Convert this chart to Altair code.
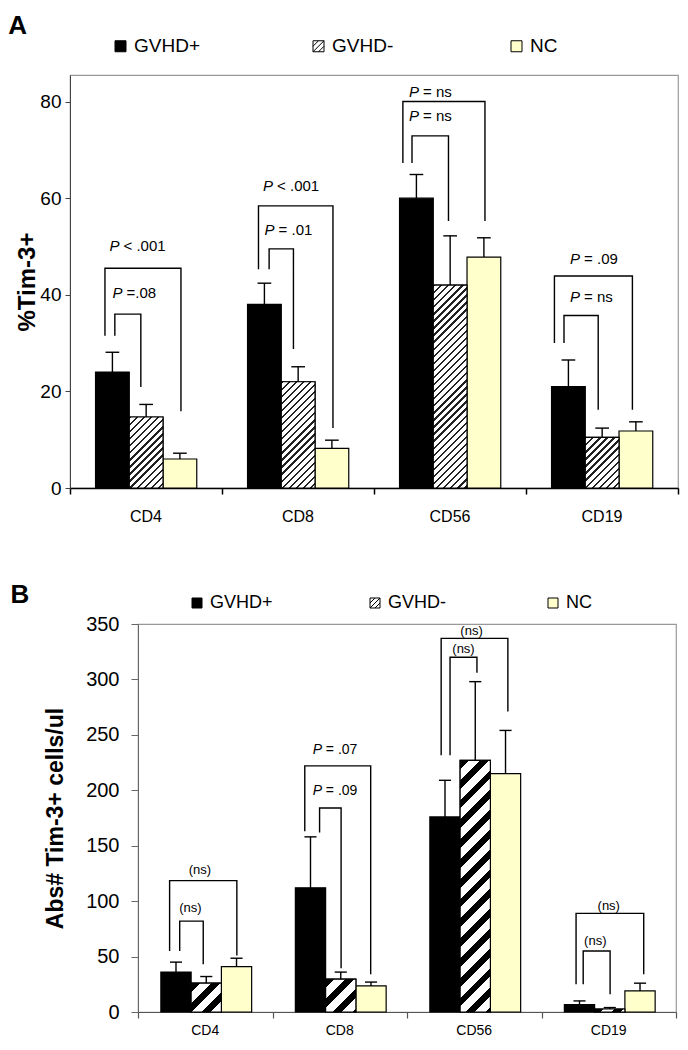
import math
import altair as alt
import pandas as pd

cats = ["CD4", "CD8", "CD56", "CD19"]
groups = ["GVHD+", "GVHD-", "NC"]

# Panel A: % Tim-3+ (mean and top of error bar)
a_mean = {"GVHD+": [24, 38, 60, 21], "GVHD-": [14.7, 22, 42, 10.5], "NC": [6, 8.2, 47.8, 11.8]}
a_top = {"GVHD+": [28.1, 42.4, 64.9, 26.5], "GVHD-": [17.3, 25.1, 52.2, 12.4], "NC": [7.2, 9.9, 51.8, 13.7]}
a_ticks = [0, 20, 40, 60, 80]

# Panel B: absolute Tim-3+ cells/ul
b_mean = {"GVHD+": [36, 112, 176, 6.6], "GVHD-": [26, 29.6, 227, 2.7], "NC": [41, 23.5, 215, 19]}
b_top = {"GVHD+": [45, 158, 209, 10], "GVHD-": [32, 36, 298, 4], "NC": [48.5, 27, 254, 26]}
b_ticks = [0, 50, 100, 150, 200, 250, 300, 350]

# significance brackets: category, left x, right x (fraction of category), left leg bottom, top, right leg bottom
a_brackets = [
    ("CD4", 0.295, 0.466, 31.5, 36.0, 20.9),
    ("CD4", 0.23, 0.73, 31.5, 45.5, 15.9),
    ("CD8", 0.31, 0.47, 45.3, 49.5, 28.8),
    ("CD8", 0.24, 0.73, 45.3, 58.4, 12.4),
    ("CD56", 0.25, 0.49, 67.3, 72.9, 55.3),
    ("CD56", 0.19, 0.73, 67.3, 80.0, 55.3),
    ("CD19", 0.25, 0.475, 30.0, 35.7, 16.2),
    ("CD19", 0.187, 0.70, 30.0, 43.9, 16.2),
]
a_plabels = [
    ("CD4", 0.26, 50.1, "< .001"), ("CD4", 0.28, 40.4, "=.08"),
    ("CD8", 0.27, 62.5, "< .001"), ("CD8", 0.28, 53.4, "= .01"),
    ("CD56", 0.23, 82.0, "= ns"), ("CD56", 0.23, 77.0, "= ns"),
    ("CD19", 0.29, 47.4, "= .09"), ("CD19", 0.29, 39.5, "= ns"),
]
a_nslabels = []

b_brackets = [
    ("CD4", 0.31, 0.485, 55, 82, 43),
    ("CD4", 0.235, 0.735, 55, 118.5, 51),
    ("CD8", 0.35, 0.51, 162, 184, 39.5),
    ("CD8", 0.24, 0.73, 163, 222, 34),
    ("CD56", 0.32, 0.52, 231.6, 320, 306),
    ("CD56", 0.254, 0.75, 231.6, 337, 271),
    ("CD19", 0.31, 0.51, 25, 55, 16),
    ("CD19", 0.257, 0.76, 25, 89, 34),
]
b_plabels = [("CD8", 0.30, 236, "= .07"), ("CD8", 0.30, 199, "= .09")]
b_nslabels = [
    ("CD4", 0.39, 94, "(ns)"), ("CD4", 0.46, 128, "(ns)"),
    ("CD56", 0.42, 327.6, "(ns)"), ("CD56", 0.48, 344, "(ns)"),
    ("CD19", 0.40, 64, "(ns)"), ("CD19", 0.50, 96, "(ns)"),
]

FONT = "Liberation Sans"
HATCH_PATH = "M-1,-1H1V1H-1Z M-1,0L0,-1 M-1,1L1,-1 M0,1L1,0"


def hatch(w, h, period, frac, dark):
    gx = w * (w + h) / (w * w + h * h)
    gy = h * (w + h) / (w * w + h * h)
    n = (w + h) / (math.sqrt(2) * period)
    stops = []
    k = 0
    while k / n < 1:
        o0 = k / n
        o1 = min((k + frac) / n, 1)
        o2 = min((k + 1) / n, 1)
        stops += [{"offset": o0, "color": dark}, {"offset": o1, "color": dark},
                  {"offset": o1, "color": "white"}, {"offset": o2, "color": "white"}]
        k += 1
    return {"gradient": "linear", "x1": 0, "y1": 0, "x2": gx, "y2": gy, "stops": stops}


def panel(mean, top, ticks, brackets, plabels, nslabels, c):
    W, H, ymax = c["W"], c["H"], c["ymax"]
    starts, bw, cap = c["starts"], c["bw"], c["cap"]
    rows = []
    for i, cat in enumerate(cats):
        for j, g in enumerate(groups):
            x0 = i + starts[j]
            xc = x0 + bw / 2
            rows.append(dict(cname=cat, grp=g, x0=x0, x1=x0 + bw, xc=xc,
                             cl=xc - cap / 2, cr=xc + cap / 2,
                             v=mean[g][i], e=top[g][i]))
    bars = pd.DataFrame(rows)

    xs = alt.Scale(domain=[0, 4], nice=False, zero=False)
    ys = alt.Scale(domain=[0, ymax], nice=False)
    xax = alt.Axis(values=[0, 1, 2, 3, 4], labels=False, tickSize=c["xtick"], grid=False,
                   domainColor=c["xaxcol"], tickColor=c["xaxcol"], domainWidth=c["xw"], tickWidth=c["xw"])
    yax = alt.Axis(values=ticks, grid=False, tickSize=c["ytick"], labelFontSize=c["ylab"],
                   labelPadding=c["ylabpad"], titleFontSize=c["ytitle"], titleFontWeight="bold",
                   titlePadding=c["ytitlepad"], labelColor="black", titleColor="black",
                   domainColor=c["yaxcol"], tickColor=c["yaxcol"], labelFont=FONT, titleFont=FONT)

    def X(f):
        return alt.X(f, type="quantitative", scale=xs, axis=xax, title=None)

    def Y(f):
        return alt.Y(f, type="quantitative", scale=ys, axis=yax, title=c["title"])

    layers = []
    layers.append(alt.Chart(bars).mark_bar(stroke="black", strokeWidth=1.2).encode(
        x=X("x0"), x2="x1", y=Y("v"), y2=alt.datum(0),
        fill=alt.Fill("grp:N", scale=alt.Scale(domain=groups, range=["black", "white", "#ffffcc"]),
                      legend=alt.Legend(
                          orient="none", legendX=c["lx"], legendY=c["ly"], direction="horizontal",
                          title=None, gridAlign="all", columnPadding=c["colpad"], padding=0,
                          symbolSize=c["symsize"], symbolStrokeColor="black", symbolStrokeWidth=1,
                          symbolType={"expr": "datum.value == 'GVHD-' ? '" + HATCH_PATH + "' : 'square'"},
                          labelFontSize=c["leglab"], labelFont=FONT, labelColor="black", labelOffset=4,
                          symbolOpacity=1))))
    pxu = W / 4
    pyu = H / ymax
    hat = bars[bars["grp"] == "GVHD-"]
    for idx in hat.index:
        r = hat.loc[idx]
        w = (r["x1"] - r["x0"]) * pxu
        h = max(r["v"] * pyu, 1)
        g = hatch(w, h, c["period"], c["frac"], c["dark"])
        layers.append(alt.Chart(hat.loc[[idx]]).mark_bar(
            fill=g, stroke="black", strokeWidth=1.2).encode(
            x=X("x0"), x2="x1", y=Y("v"), y2=alt.datum(0)))
    layers.append(alt.Chart(bars).mark_rule(color="black", strokeWidth=1.4).encode(
        x=X("xc"), y=Y("v"), y2="e"))
    layers.append(alt.Chart(bars).mark_rule(color="black", strokeWidth=1.4).encode(
        x=X("cl"), x2="cr", y=Y("e")))

    brows = []
    for k, (cat, xl, xr, yl, yt, yr) in enumerate(brackets):
        i = cats.index(cat)
        pts = [(i + xl, yl), (i + xl, yt), (i + xr, yt), (i + xr, yr)]
        for o, (px, py) in enumerate(pts):
            brows.append(dict(bid=k, ord=o, bx=px, by=py))
    layers.append(alt.Chart(pd.DataFrame(brows)).mark_line(color="black", strokeWidth=1.4).encode(
        x=X("bx"), y=Y("by"), detail="bid:N", order="ord:Q"))

    if plabels:
        pdf = pd.DataFrame([dict(lx=cats.index(cat) + xf, ly=yv, rest=t) for cat, xf, yv, t in plabels])
        layers.append(alt.Chart(pdf).mark_text(fontStyle="italic", align="left", baseline="middle",
                                               fontSize=c["pfont"], font=FONT, color="black").encode(
            x=X("lx"), y=Y("ly"), text=alt.value("P")))
        layers.append(alt.Chart(pdf).mark_text(align="left", baseline="middle", dx=c["pdx"],
                                               fontSize=c["pfont"], font=FONT, color="black").encode(
            x=X("lx"), y=Y("ly"), text="rest:N"))
    if nslabels:
        ndf = pd.DataFrame([dict(lx=cats.index(cat) + xf, ly=yv, t=t) for cat, xf, yv, t in nslabels])
        layers.append(alt.Chart(ndf).mark_text(align="center", baseline="middle",
                                               fontSize=c["nsfont"], font=FONT, color="black").encode(
            x=X("lx"), y=Y("ly"), text="t:N"))

    cdf = pd.DataFrame({"cname": cats, "xm": [i + 0.5 for i in range(len(cats))]})
    layers.append(alt.Chart(cdf).mark_text(baseline="middle", fontSize=c["catfont"], font=FONT,
                                           color="black").encode(
        x=X("xm"), y=alt.value(H + c["catdy"]), text="cname:N"))
    return alt.layer(*layers).properties(width=W, height=H)


cfgA = dict(W=608, H=413, ymax=85.5, starts=[0.168, 0.39, 0.612], bw=0.222, cap=0.09,
            xtick=6, xaxcol="black", xw=1.5, yaxcol="#444", ytick=5, ylab=19, ylabpad=4,
            ytitle=24, ytitlepad=0, title="%Tim-3+", lx=41, ly=-38.5, colpad=109,
            symsize=121, leglab=19, period=5, frac=0.33, dark="#222", pfont=15, pdx=14,
            nsfont=14, catfont=16, catdy=29)
cfgB = dict(W=538, H=388, ymax=350, starts=[0.17, 0.395, 0.62], bw=0.225, cap=0.09,
            xtick=6, xaxcol="#555", xw=1.2, yaxcol="#666", ytick=7, ylab=20, ylabpad=12,
            ytitle=23, ytitlepad=18, title="Abs# Tim-3+ cells/ul", lx=50, ly=-30, colpad=93,
            symsize=100, leglab=18, period=14, frac=0.45, dark="black", pfont=14, pdx=13,
            nsfont=13, catfont=14, catdy=19)

chartA = panel(a_mean, a_top, a_ticks, a_brackets, a_plabels, a_nslabels, cfgA)
chartB = panel(b_mean, b_top, b_ticks, b_brackets, b_plabels, b_nslabels, cfgB)


def spacer(w):
    return alt.Chart(pd.DataFrame({"s": [0]})).mark_point(opacity=0).encode(
        x=alt.X("s:Q", axis=None), y=alt.Y("s:Q", axis=None)).properties(
        width=w, height=10, view=alt.ViewBackground(stroke="transparent"))


rowA = alt.hconcat(spacer(1), chartA, spacing=0).resolve_scale(fill="independent").properties(
    title=alt.Title("A", anchor="start", fontSize=26, fontWeight="bold", font=FONT, offset=-3, color="black"))
rowB = alt.hconcat(spacer(32), chartB, spacing=0).resolve_scale(fill="independent").properties(
    title=alt.Title("B", anchor="start", fontSize=26, fontWeight="bold", font=FONT, offset=-15, color="black"))

chart = alt.vconcat(rowA, rowB, spacing=56).resolve_scale(fill="independent").properties(
    padding={"left": 0, "top": 4, "right": 0, "bottom": 0}
).configure(font=FONT).configure_view(stroke="#999", strokeWidth=1.2)

chart.save("out.html", embed_options={"renderer": "svg", "actions": False})
